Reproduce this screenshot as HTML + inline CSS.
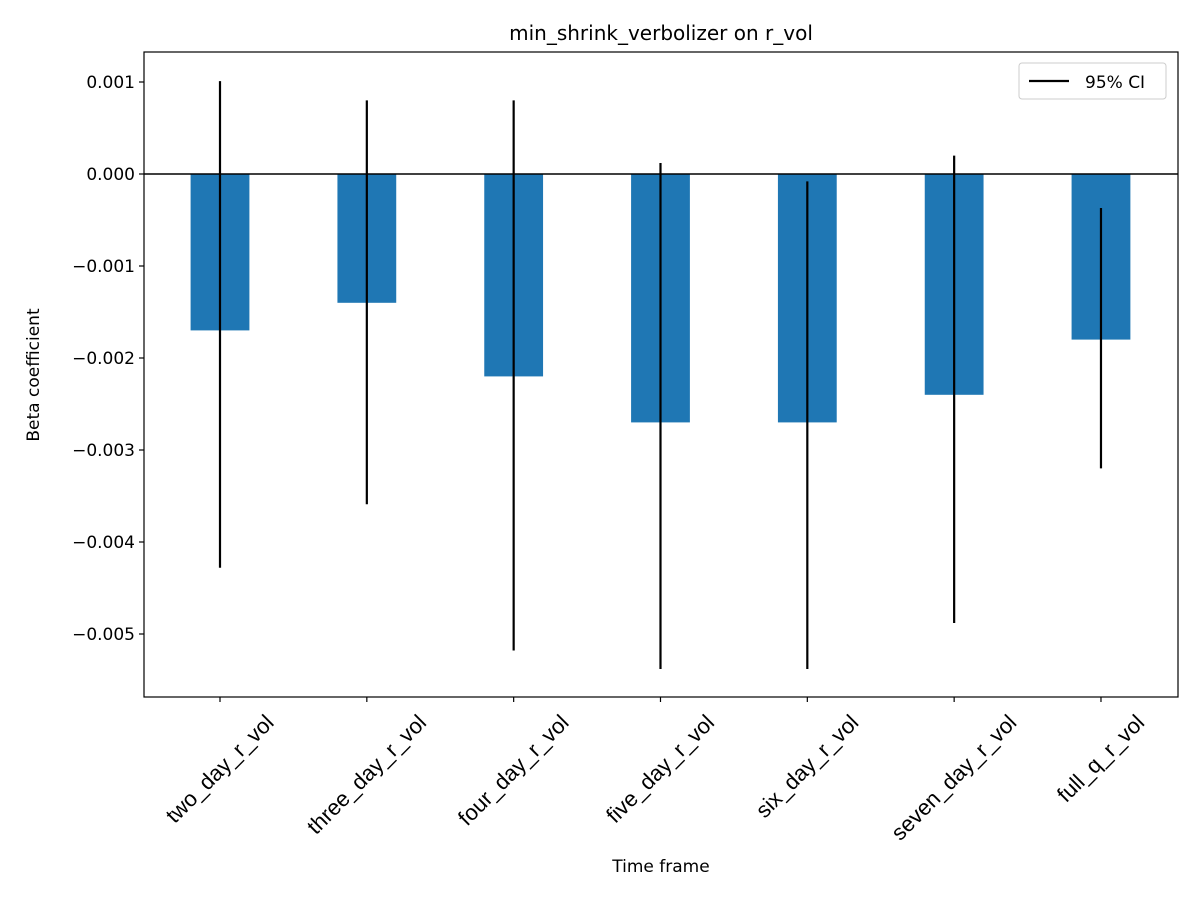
<!DOCTYPE html>
<html><head><meta charset="utf-8"><style>
html,body{margin:0;padding:0;background:#fff;}
svg{display:block;font-family:"DejaVu Sans","Liberation Sans",sans-serif;}
</style></head><body>
<svg id="chart" width="1200" height="900" viewBox="0 0 1200 900">
<rect x="0" y="0" width="1200" height="900" fill="#fff"/>
<text x="661" y="40" font-size="20" text-anchor="middle">min_shrink_verbolizer on r_vol</text>
<g id="plot"></g>
<text x="661" y="872" font-size="17" text-anchor="middle">Time frame</text>
<text transform="translate(39,375) rotate(-90)" font-size="17" text-anchor="middle">Beta coefficient</text>
<g>
<rect x="1019" y="63" width="147" height="36" rx="3" fill="#fff" stroke="#ccc"/>
<line x1="1029" y1="81" x2="1069" y2="81" stroke="#000" stroke-width="2.2"/>
<text x="1085" y="88" font-size="17">95% CI</text>
</g>
</svg>
<script>
const categories=["two_day_r_vol","three_day_r_vol","four_day_r_vol","five_day_r_vol","six_day_r_vol","seven_day_r_vol","full_q_r_vol"];
const betas=[-0.0017,-0.0014,-0.0022,-0.0027,-0.0027,-0.0024,-0.0018];
const ciLow=[-0.00428,-0.00359,-0.00518,-0.00538,-0.00538,-0.00488,-0.0032];
const ciHigh=[0.00101,0.0008,0.0008,0.00012,-0.00008,0.0002,-0.00037];
const yTicks=[0.001,0,-0.001,-0.002,-0.003,-0.004,-0.005];
const yTickLabels=["0.001","0.000","\u22120.001","\u22120.002","\u22120.003","\u22120.004","\u22120.005"];
const L=144,R=1178,T=52,B=697;
const NS="http://www.w3.org/2000/svg";
const g=document.getElementById('plot');
function y(v){return 174-v*92000;}
function x(i){return 220+i*146.83;}
function mk(t,a,p){const e=document.createElementNS(NS,t);for(const k in a)e.setAttribute(k,a[k]);(p||g).appendChild(e);return e;}
categories.forEach((c,i)=>{
 const y0=y(0),y1=y(betas[i]);
 const r=mk('rect',{x:x(i)-29.4,y:Math.min(y0,y1),width:58.8,height:Math.abs(y1-y0),fill:'#1f77b4'});
 
 
});
const zl=mk('line',{x1:L,x2:R,y1:y(0),y2:y(0),stroke:'#000','stroke-width':1.6});


categories.forEach((c,i)=>{
 const l=mk('line',{x1:x(i),x2:x(i),y1:y(ciHigh[i]),y2:y(ciLow[i]),stroke:'#000','stroke-width':2.2});
 
 
});
const fr=mk('rect',{x:L,y:T,width:R-L,height:B-T,fill:'none',stroke:'#000','stroke-width':1.2});


yTicks.forEach((v,i)=>{
 mk('line',{x1:L-5,x2:L,y1:y(v),y2:y(v),stroke:'#000','stroke-width':1.2});
 const t=mk('text',{x:L-9,y:y(v)+6,'font-size':17,'text-anchor':'end'});
 t.textContent=yTickLabels[i];
 
 
});
categories.forEach((c,i)=>{
 mk('line',{x1:x(i),x2:x(i),y1:B,y2:B+5,stroke:'#000','stroke-width':1.2});
 const t=mk('text',{'font-size':22,'text-anchor':'middle','font-family':'"Liberation Sans",sans-serif'});
 t.textContent=c;
 
 
 const w=t.getComputedTextLength();
 const cx=x(i), cy=B+14+(w*0.7071+16)/2;
 t.setAttribute('x',cx);t.setAttribute('y',cy+7);
 t.setAttribute('transform',`rotate(-45 ${cx} ${cy})`);
});
</script>
</body></html>
